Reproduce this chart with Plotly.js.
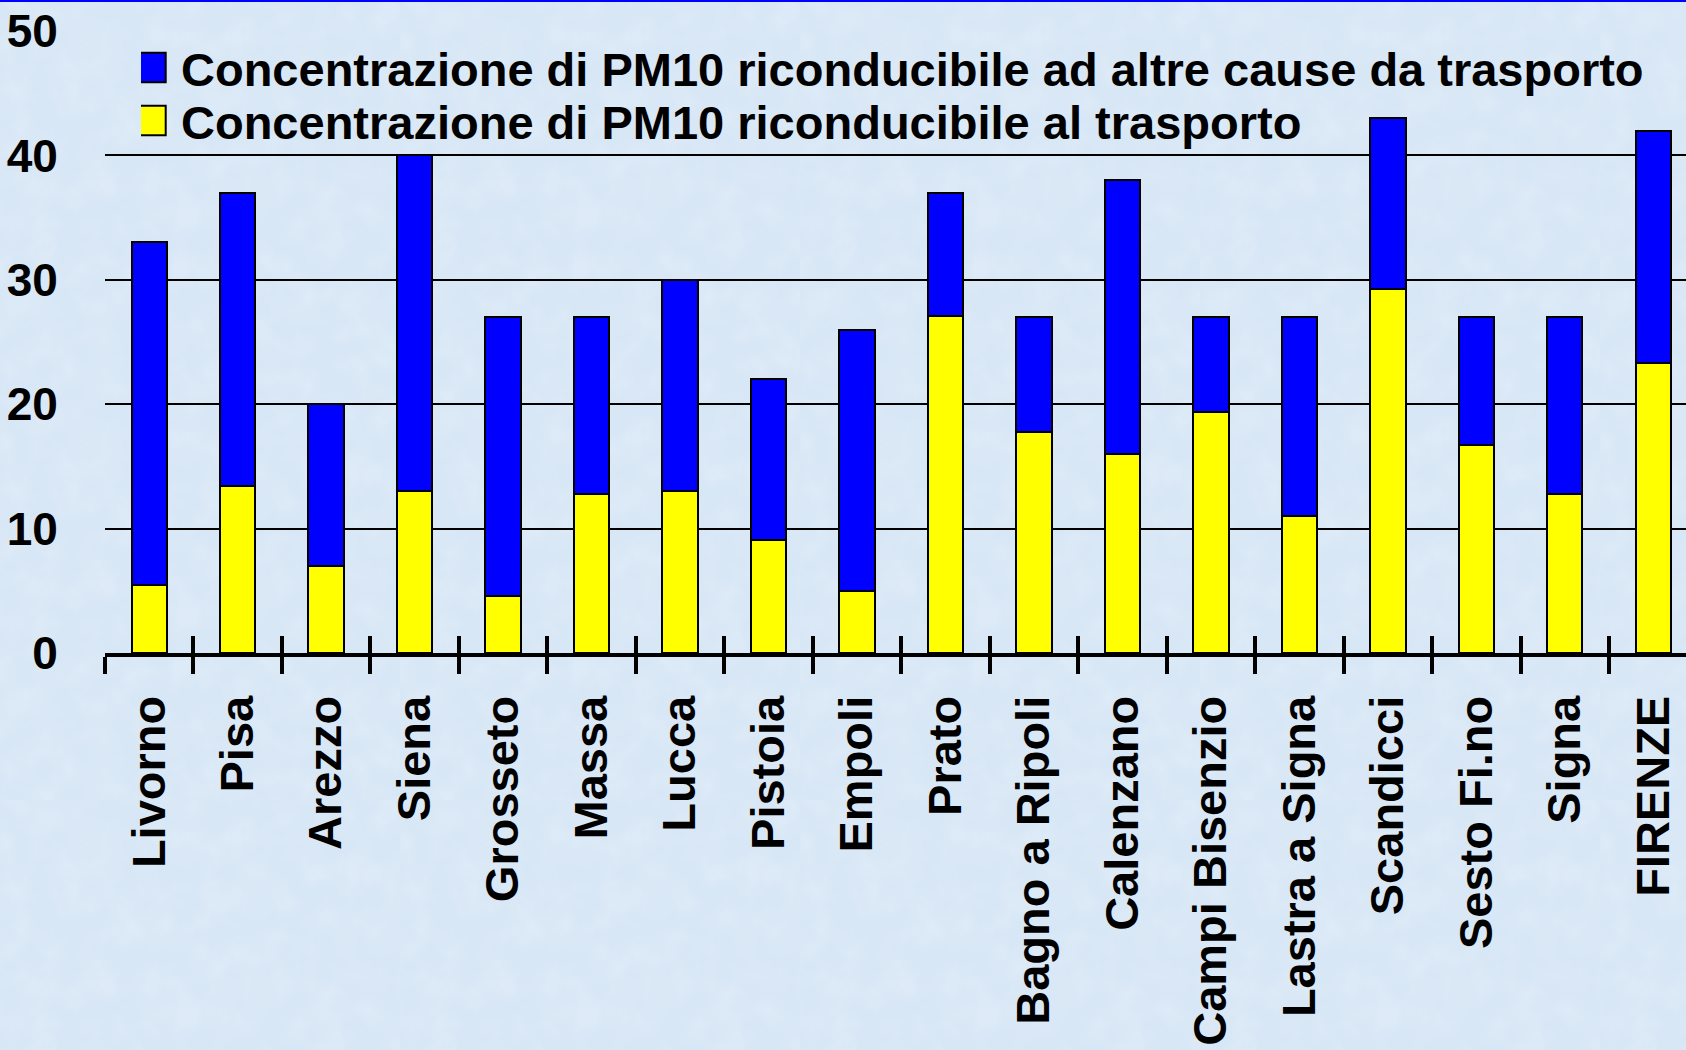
<!DOCTYPE html>
<html>
<head>
<meta charset="utf-8">
<script src="https://cdn.plot.ly/plotly-3.0.1.min.js"></script>
<style>
  html, body { margin: 0; padding: 0; background-color: #d8e7f6; }
  body {
    background-image: url("data:image/svg+xml;utf8,<svg xmlns='http://www.w3.org/2000/svg' width='400' height='400'><filter id='n'><feTurbulence type='fractalNoise' baseFrequency='0.035' numOctaves='4' seed='7'/><feColorMatrix values='0 0 0 0 1  0 0 0 0 1  0 0 0 0 1  0 0 0 0.9 -0.35'/></filter><rect width='400' height='400' filter='url(%23n)' opacity='0.35'/></svg>");
  }
  #chart { width: 1686px; height: 1050px; }
  /* enlarge the legend squares to the size used in the reference */
  .legendpoints path {
    transform: translate(10px, 0px) scale(2.45);
    vector-effect: non-scaling-stroke;
  }
</style>
</head>
<body>
<div id="chart"></div>
<script>
// Data (PM10 concentration, stacked components)
var categories = ["Livorno", "Pisa", "Arezzo", "Siena", "Grosseto", "Massa", "Lucca", "Pistoia", "Empoli",
  "Prato", "Bagno a Ripoli", "Calenzano", "Campi Bisenzio", "Lastra a Signa", "Scandicci", "Sesto Fi.no",
  "Signa", "FIRENZE"];
// part attributable to transport (yellow, bottom)
var trasporto = [5.5, 13.4, 7.0, 13.0, 4.6, 12.8, 13.0, 9.1, 5.0, 27.1, 17.8, 16.0, 19.4, 11.0, 29.3, 16.7, 12.8, 23.3];
// part attributable to other causes (blue, stacked on top)
var altreCause = [27.5, 23.6, 13.0, 27.0, 22.4, 14.2, 17.0, 12.9, 21.0, 9.9, 9.2, 22.0, 7.6, 16.0, 13.7, 10.3, 14.2, 18.7];
var nameTrasporto = "Concentrazione di PM10 riconducibile al trasporto";
var nameAltre = "Concentrazione di PM10 riconducibile ad altre cause da trasporto";
var yTicks = [0, 10, 20, 30, 40, 50];

var FONT = "Liberation Sans, Arial, Helvetica, sans-serif";

var W = 1686, H = 1050;
var ML = 105, MR = 0, MT = 31, MB = 397;
var PW = W - ML - MR, PH = H - MT - MB;
function px2x(px) { return (px - ML) / PW; }
function py2y(py) { return (H - MB - py) / PH; }

var traces = [
  {
    type: "bar", x: categories, y: trasporto, name: nameTrasporto,
    marker: { color: "#ffff00", line: { color: "#000000", width: 2 } },
    legend: "legend2", hoverinfo: "skip"
  },
  {
    type: "bar", x: categories, y: altreCause, name: nameAltre,
    marker: { color: "#0000ff", line: { color: "#000000", width: 2 } },
    legend: "legend", hoverinfo: "skip"
  },
  // invisible helper trace so that the overlaying tick axis (upper half of the crossing ticks) is drawn
  { type: "scatter", mode: "markers", x: [0], y: [0], xaxis: "x2", yaxis: "y",
    marker: { size: 1, opacity: 0 }, showlegend: false, hoverinfo: "skip" }
];

var layout = {
  width: W, height: H,
  paper_bgcolor: "rgba(0,0,0,0)",
  plot_bgcolor: "rgba(0,0,0,0)",
  margin: { l: ML, r: MR, t: MT, b: MB, pad: 0 },
  barmode: "stack",
  bargap: 0.6,
  font: { family: FONT, color: "#000000", size: 46, weight: 700 },
  showlegend: true,
  legend: {
    x: px2x(141), xanchor: "left", y: py2y(68), yanchor: "middle",
    bgcolor: "rgba(0,0,0,0)", borderwidth: 0,
    font: { family: FONT, size: 47, color: "#000000", weight: 700 }
  },
  legend2: {
    x: px2x(141), xanchor: "left", y: py2y(121), yanchor: "middle",
    bgcolor: "rgba(0,0,0,0)", borderwidth: 0,
    font: { family: FONT, size: 47, color: "#000000", weight: 700 }
  },
  xaxis: {
    type: "category",
    range: [-0.5, 17.37],
    showline: true, linecolor: "#000000", linewidth: 4,
    ticks: "outside", ticklen: 17, tickwidth: 4, tickcolor: "#000000",
    tickson: "boundaries",
    tickangle: -90,
    ticklabelstandoff: 20,
    tickfont: { family: FONT, size: 47, color: "#000000", weight: 700 },
    showgrid: false, zeroline: false, automargin: false, fixedrange: true
  },
  xaxis2: {
    overlaying: "x", anchor: "y", side: "bottom",
    type: "linear", range: [-0.5, 17.37],
    tick0: -0.5, dtick: 1,
    ticks: "inside", ticklen: 17, tickwidth: 4, tickcolor: "#000000",
    showticklabels: false, showgrid: false, zeroline: false, showline: false,
    automargin: false, fixedrange: true
  },
  yaxis: {
    range: [0, 50],
    tickvals: yTicks,
    ticktext: yTicks.map(String),
    ticks: "outside", ticklen: 37, tickcolor: "rgba(0,0,0,0)",
    tickfont: { family: FONT, size: 46, color: "#000000", weight: 700 },
    showgrid: true, gridcolor: "#000000", gridwidth: 2,
    showline: false, zeroline: false, automargin: false, fixedrange: true
  },
  shapes: [
    { type: "rect", xref: "paper", yref: "paper", x0: px2x(0), x1: px2x(W), y0: py2y(2), y1: py2y(0),
      fillcolor: "#0000ff", line: { width: 0 }, layer: "above" }
  ]
};

Plotly.newPlot("chart", traces, layout, { staticPlot: true, displayModeBar: false });
</script>
</body>
</html>
